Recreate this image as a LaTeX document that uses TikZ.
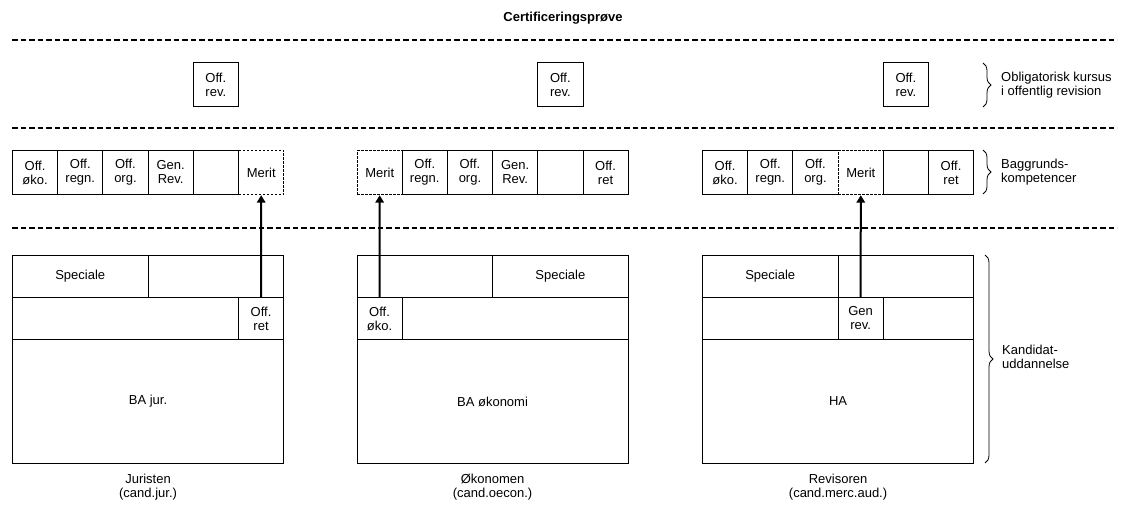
\documentclass[tikz,border=0pt]{standalone}
\usepackage{fontspec}
\setmainfont{Liberation Sans}
\usetikzlibrary{arrows.meta,decorations.pathreplacing}

\begin{document}
\begin{tikzpicture}[x=1pt, y=-1pt,
	every node/.style={font=\fontsize{13}{14}\selectfont, align=center, inner sep=0pt},
	cell/.style={draw, line width=0.9pt, anchor=north west, minimum width=45.2pt, minimum height=44pt},
	meritcell/.style={cell, fill=white, line width=1.2pt, dash pattern=on 2.4pt off 1.6pt},
	block/.style={draw, line width=0.9pt, anchor=north west, minimum height=42pt},
	sep/.style={line width=1.4pt, dash pattern=on 5.5pt off 3pt},
	lift/.style={-{Triangle[length=7.5pt,width=8.5pt]}, line width=2pt},
	grp/.style={decorate, decoration={brace, amplitude=8pt}, line width=0.8pt}]

\useasboundingbox (0,0) rectangle (1127,505);

% Set the cell width
\def\cw{45.2}

% Title
\node[font=\fontsize{13}{14}\selectfont\bfseries] (title) at (563,18) {Certificeringsprøve};

% Dashed separator lines
\foreach \n/\y in {a/40, b/128, c/228} {
	\coordinate (l\n) at (12,\y);
	\coordinate (r\n) at (1117,\y);
	\draw[sep] (l\n) -- (r\n);
}

% Obligatory course (one box per group)
\node[cell] (jrev) at (12+4*\cw,62) {Off.\\rev.};
\node[cell] (orev) at (356.5+4*\cw,62) {Off.\\rev.};
\node[cell] (rrev) at (702+4*\cw,62) {Off.\\rev.};

% Background competences, Juristen
\foreach \i/\t in {0/{Off.\\øko.},1/{Off.\\regn.},2/{Off.\\org.},3/{Gen.\\Rev.},4/{}} {
	\node[cell] (j\i) at (12+\i*\cw,150) {\t};
}
\node[meritcell] (j5) at (12+5*\cw,150) {Merit};

% Background competences, Økonomen
\foreach \i/\t in {1/{Off.\\regn.},2/{Off.\\org.},3/{Gen.\\Rev.},4/{},5/{Off.\\ret}} {
	\node[cell] (o\i) at (356.5+\i*\cw,150) {\t};
}
\node[meritcell] (o0) at (356.5,150) {Merit};

% Background competences, Revisoren
\foreach \i/\t in {0/{Off.\\øko.},1/{Off.\\regn.},2/{Off.\\org.},4/{},5/{Off.\\ret}} {
	\node[cell] (r\i) at (702+\i*\cw,150) {\t};
}
\node[meritcell] (r3) at (702+3*\cw,150) {Merit};

% Candidate education, Juristen
\node[block, minimum width=135.6pt] (jspec) at (12,255) {Speciale};
\node[block, minimum width=135.6pt] (jtop) at (12+3*\cw,255) {};
\node[block, minimum width=226pt] (jmid) at (12,297) {};
\node[block, minimum width=45.2pt] (jret) at (12+5*\cw,297) {Off.\\ret};
\node[block, minimum width=271.2pt, minimum height=124pt] (jba) at (12,339) {BA jur.};
\node[anchor=north] (jname) at ([yshift=-10pt]jba.south) {Juristen\\(cand.jur.)};

% Candidate education, Økonomen
\node[block, minimum width=135.6pt] (otop) at (356.5,255) {};
\node[block, minimum width=135.6pt] (ospec) at (356.5+3*\cw,255) {Speciale};
\node[block, minimum width=45.2pt] (ooko) at (356.5,297) {Off.\\øko.};
\node[block, minimum width=226pt] (omid) at (356.5+\cw,297) {};
\node[block, minimum width=271.2pt, minimum height=124pt] (oba) at (356.5,339) {BA økonomi};
\node[anchor=north] (oname) at ([yshift=-10pt]oba.south) {Økonomen\\(cand.oecon.)};

% Candidate education, Revisoren
\node[block, minimum width=135.6pt] (rspec) at (702,255) {Speciale};
\node[block, minimum width=135.6pt] (rtop) at (702+3*\cw,255) {};
\node[block, minimum width=135.6pt] (rmid) at (702,297) {};
\node[block, minimum width=45.2pt] (rgen) at (702+3*\cw,297) {Gen\\rev.};
\node[block, minimum width=90.4pt] (rend) at (702+4*\cw,297) {};
\node[block, minimum width=271.2pt, minimum height=124pt] (rha) at (702,339) {HA};
\node[anchor=north] (rname) at ([yshift=-10pt]rha.south) {Revisoren\\(cand.merc.aud.)};

% Merit arrows
\draw[lift] (jret) -- (j5);
\draw[lift] (ooko) -- (o0);
\draw[lift] (rgen) -- (r3);

% Braces with labels
\coordinate (b1t) at (983,63);
\coordinate (b1b) at (983,107);
\coordinate (b2t) at (983,150);
\coordinate (b2b) at (983,194);
\coordinate (b3t) at (985,255);
\coordinate (b3b) at (985,463);
\draw[grp] (b1t) -- (b1b);
\draw[grp] (b2t) -- (b2b);
\draw[grp] (b3t) -- (b3b);
\node[anchor=west, align=left] (kursus) at (1001,85) {Obligatorisk kursus\\i offentlig revision};
\node[anchor=west, align=left] (baggrund) at (1001,172) {Baggrunds-\\kompetencer};
\node[anchor=west, align=left] (kandidat) at (1002,357) {Kandidat-\\uddannelse};

\end{tikzpicture}
\end{document}
